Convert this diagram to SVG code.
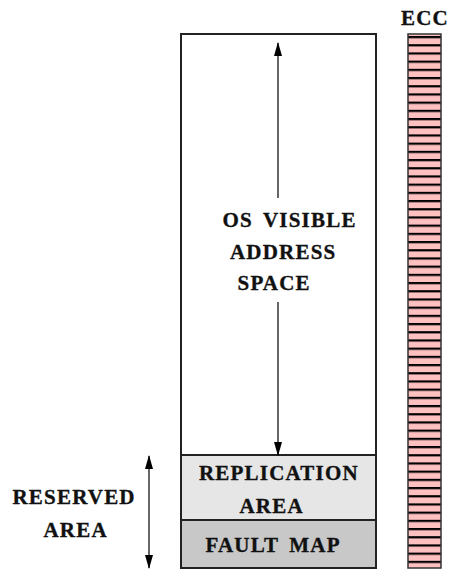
<svg xmlns="http://www.w3.org/2000/svg" width="450" height="570" viewBox="0 0 450 570">
<style>
.t{font-family:"Liberation Serif","Times New Roman",serif;font-weight:700;font-size:21px;letter-spacing:1.2px;word-spacing:4px;fill:#111;stroke:#111;stroke-width:0.35}
.box{stroke:#222;stroke-width:2}
.ln{stroke:#000;stroke-width:1.2;fill:none}
</style>
<defs>
<marker id="ah" viewBox="0 0 14 8" refX="13" refY="4" markerWidth="14" markerHeight="8" markerUnits="userSpaceOnUse" orient="auto-start-reverse">
<path d="M0,0 L14,4 L0,8 Z" fill="#000"/>
</marker>
<pattern id="stripes" patternUnits="userSpaceOnUse" x="0" y="36" width="40" height="8.2">
<rect x="0" y="0" width="40" height="2.2" fill="#000"/>
</pattern>
</defs>
<g id="os-space">
<rect class="box" x="181" y="34" width="195" height="421" fill="#fff"/>
<text class="t" x="222.5" y="227">OS VISIBLE</text>
<text class="t" x="230" y="258.5">ADDRESS</text>
<text class="t" x="237.5" y="290">SPACE</text>
</g>
<g id="replication-area">
<rect class="box" x="181" y="455" width="195" height="65" fill="#e6e6e6"/>
<text class="t" x="199" y="480">REPLICATION</text>
<text class="t" x="239.5" y="513">AREA</text>
</g>
<g id="fault-map">
<rect class="box" x="181" y="520" width="195" height="48" fill="#c8c8c8"/>
<text class="t" x="205.5" y="552">FAULT MAP</text>
</g>
<g id="ecc">
<rect x="408" y="34" width="33" height="534" fill="#ffc0c0"/>
<rect x="408" y="34" width="33" height="534" fill="url(#stripes)"/>
<rect x="408" y="34" width="33" height="534" fill="none" stroke="#333" stroke-width="1.5"/>
<text class="t" x="401" y="25">ECC</text>
</g>
<g id="reserved-label">
<text class="t" x="12.5" y="504">RESERVED</text>
<text class="t" x="43.5" y="537">AREA</text>
</g>
<g id="connectors">
<line class="ln" x1="278" y1="198" x2="278" y2="43" marker-end="url(#ah)"/>
<line class="ln" x1="278" y1="302" x2="278" y2="455" marker-end="url(#ah)"/>
<line class="ln" x1="149" y1="456" x2="149" y2="568" marker-start="url(#ah)" marker-end="url(#ah)"/>
</g>
</svg>
